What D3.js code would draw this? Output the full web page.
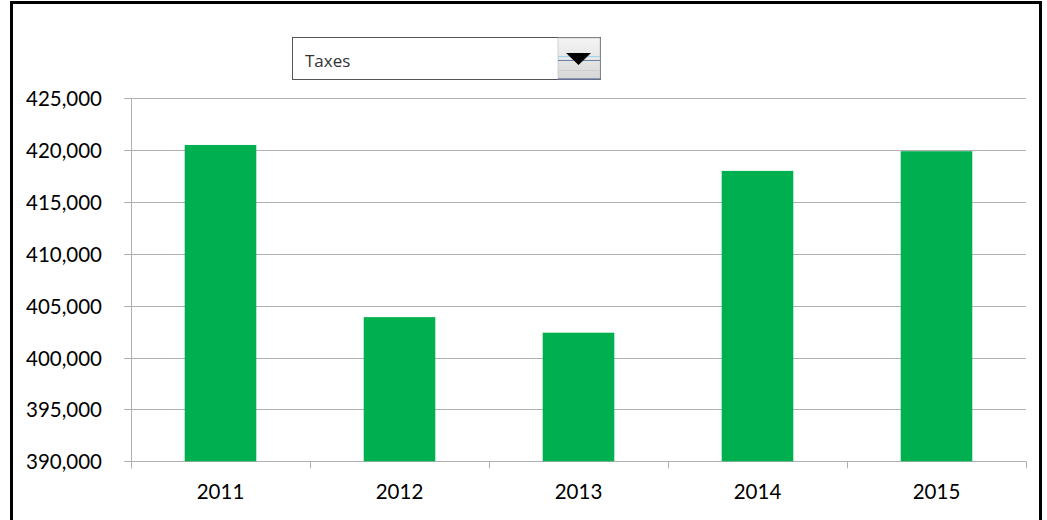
<!DOCTYPE html>
<html>
<head>
<meta charset="utf-8">
<script src="https://cdn.jsdelivr.net/npm/d3@7"></script>
<style>
  html, body { margin: 0; padding: 0; background: #fff; }
  svg { display: block; }
</style>
</head>
<body>
<svg id="chart" width="1047" height="520"></svg>
<script>
const categories = ["2011", "2012", "2013", "2014", "2015"];
const taxes = [420500, 403900, 402400, 418000, 419900];
const yTicks = [390000, 395000, 400000, 405000, 410000, 415000, 420000, 425000];
const selectedLabel = "Taxes";

(function () {
const svg = d3.select("#chart");
const fontFam = "Lato, 'Liberation Sans', Arial, sans-serif";

// frame
svg.append("rect").attr("x", 11.5).attr("y", 2.5).attr("width", 1029).attr("height", 530)
  .attr("fill", "none").attr("stroke", "#000").attr("stroke-width", 3);

const pLeft = 131, pRight = 1026, pTop = 98.3, pBottom = 461.3;

const x = d3.scaleBand().domain(categories).range([pLeft, pRight]).paddingInner(0.6).paddingOuter(0.3);
const xb = d3.scaleBand().domain(categories).range([pLeft, pRight]);
const y = d3.scaleLinear().domain([390000, 425000]).range([pBottom, pTop]);

// gridlines
svg.append("g").selectAll("line").data(yTicks).join("line")
  .attr("x1", pLeft - 7).attr("x2", pRight)
  .attr("y1", d => Math.round(y(d)) + 0.5).attr("y2", d => Math.round(y(d)) + 0.5)
  .attr("stroke", "#b0b0b0").attr("stroke-width", 1);

// y axis line
svg.append("line").attr("x1", pLeft + 0.5).attr("x2", pLeft + 0.5).attr("y1", pTop).attr("y2", pBottom + 7)
  .attr("stroke", "#b0b0b0");

// x tick marks at category boundaries
const bounds = categories.map(c => xb(c)).concat([pRight]);
svg.append("g").selectAll("line").data(bounds).join("line")
  .attr("x1", d => Math.round(d) + 0.5).attr("x2", d => Math.round(d) + 0.5)
  .attr("y1", pBottom).attr("y2", pBottom + 7)
  .attr("stroke", "#b0b0b0");

// bars
svg.append("g").selectAll("rect").data(taxes).join("rect")
  .attr("x", (d, i) => x(categories[i]))
  .attr("width", x.bandwidth())
  .attr("y", d => y(d))
  .attr("height", d => y(390000) - y(d))
  .attr("fill", "#00B050");

// y labels
const fmt = d3.format(",");
svg.append("g").selectAll("text").data(yTicks).join("text")
  .attr("x", 102).attr("y", d => y(d))
  .attr("text-anchor", "end").attr("dominant-baseline", "central")
  .attr("font-family", fontFam).attr("font-size", 20.5).attr("fill", "#000")
  .text(d => fmt(d));

// x labels
svg.append("g").selectAll("text").data(categories).join("text")
  .attr("x", d => xb(d) + xb.bandwidth() / 2).attr("y", 499)
  .attr("text-anchor", "middle")
  .attr("font-family", fontFam).attr("font-size", 20.5).attr("fill", "#000")
  .text(d => d);

// dropdown control
const dd = svg.append("g");
dd.append("rect").attr("x", 292.5).attr("y", 37.5).attr("width", 308).attr("height", 42)
  .attr("fill", "#fff").attr("stroke", "#555").attr("stroke-width", 1);
dd.append("text").attr("x", 305).attr("y", 67)
  .attr("font-family", "'Open Sans', 'DejaVu Sans', sans-serif").attr("font-size", 17).attr("fill", "#333")
  .text(selectedLabel);
const defs = svg.append("defs");
const g = defs.append("linearGradient").attr("id", "btn").attr("x1", 0).attr("x2", 0).attr("y1", 0).attr("y2", 1);
g.append("stop").attr("offset", "0%").attr("stop-color", "#f4f4f4");
g.append("stop").attr("offset", "50%").attr("stop-color", "#e6e6e6");
g.append("stop").attr("offset", "100%").attr("stop-color", "#d6d6d6");
dd.append("rect").attr("x", 558).attr("y", 38).attr("width", 42).attr("height", 41).attr("fill", "url(#btn)")
  .attr("stroke", "#c8c8c8").attr("stroke-width", 0.8);
dd.append("line").attr("x1", 558).attr("x2", 600).attr("y1", 56.5).attr("y2", 56.5).attr("stroke", "#9fd3ef");
dd.append("line").attr("x1", 558).attr("x2", 600).attr("y1", 60.5).attr("y2", 60.5).attr("stroke", "#6b7fa6");
dd.append("line").attr("x1", 558).attr("x2", 600).attr("y1", 70.5).attr("y2", 70.5).attr("stroke", "#cfcfcf");
dd.append("line").attr("x1", 558).attr("x2", 600).attr("y1", 79).attr("y2", 79).attr("stroke", "#4a5f9a");
dd.append("path").attr("d", "M566,53 L591,53 L578.5,65 Z").attr("fill", "#000");
})();
</script>
</body>
</html>
